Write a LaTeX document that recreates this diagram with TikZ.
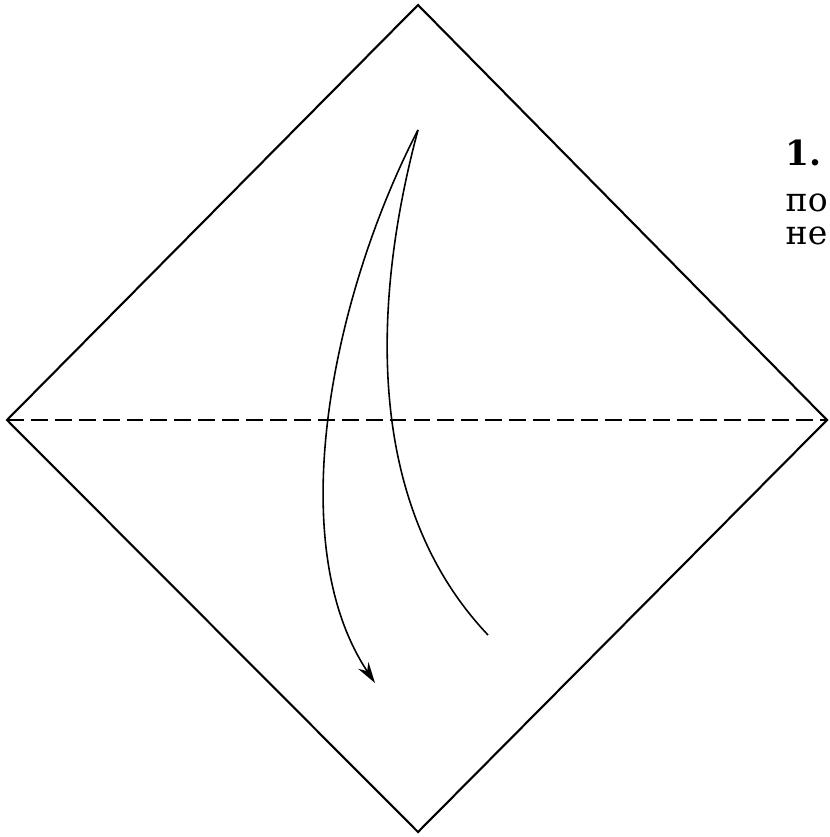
\documentclass[tikz,border=0pt]{standalone}
\usepackage{fontspec}
\setmainfont{DejaVu Serif}
\usetikzlibrary{arrows.meta}

\begin{document}
\begin{tikzpicture}[x=0.01cm, y=-0.01cm,
    fold/.style={line width=0.6pt},
    valley/.style={line width=0.45pt, dash pattern=on 4.8pt off 2pt},
    turn/.style={line width=0.45pt},
    step text/.style={anchor=base west, inner sep=0pt, font=\fontsize{9.4pt}{12pt}\selectfont}]
  \useasboundingbox (0,0) rectangle (829,837);
  % Coordinates
  \coordinate (L) at (7,420);
  \coordinate (T) at (418,5);
  \coordinate (R) at (827,420);
  \coordinate (B) at (418,832);
  \coordinate (P) at (418,130);
  \coordinate (E) at (375,683);
  \coordinate (F) at (488,635);

  % Drawing
  \draw[fold, line join=miter] (L) -- (T) -- (R) -- (B) -- cycle;
  \draw[valley] (L) -- (R);
  \draw[turn, -{Stealth[length=6pt, width=3.5pt]}] (P) .. controls (335,290) and (280,540) .. (E);
  \draw[turn] (P) .. controls (375,290) and (360,500) .. (F);

  % Text
  \node[step text, font=\fontsize{9.8pt}{12pt}\bfseries] (n1) at (785,166) {1.};
  \node[step text] (n2) at (785,212) {по};
  \node[step text] (n3) at (785,245) {не};
\end{tikzpicture}
\end{document}
